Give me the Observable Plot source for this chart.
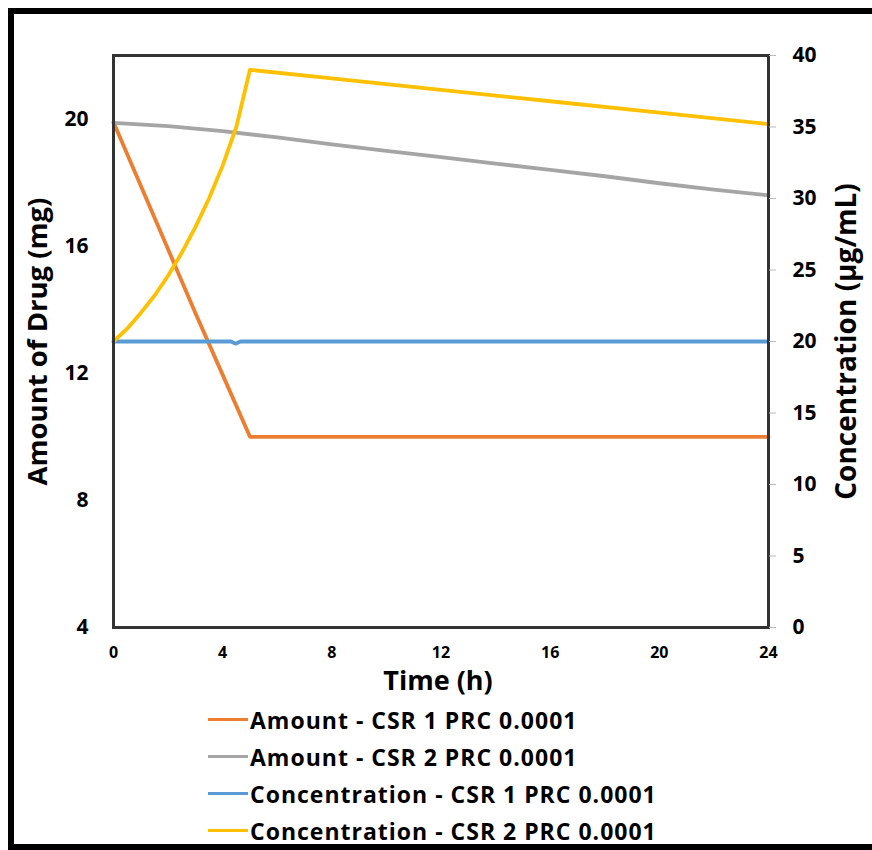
<!DOCTYPE html>
<html>
<head>
<meta charset="utf-8">
<script src="https://cdn.jsdelivr.net/npm/d3@7"></script>
<script src="https://cdn.jsdelivr.net/npm/@observablehq/plot@0.6"></script>
<style>
  html, body { margin: 0; padding: 0; background: #fff; }
  #wrap { position: relative; width: 872px; height: 850px; overflow: hidden; background: #fff; font-family: "Open Sans", sans-serif; }
  #border { position: absolute; left: 8px; top: 8px; width: 900px; height: 842px; box-sizing: border-box; border: 6px solid #000; }
  #chart { position: absolute; left: 0; top: 0; }
  #chart svg text { font-family: "Open Sans", sans-serif; font-weight: 700; }
  #legend { position: absolute; left: 208px; top: 701px; }
  .row { display: flex; align-items: center; height: 37px; }
  .sw { width: 40px; height: 3px; }
  .lbl { margin-left: 2px; font-weight: 700; font-size: 23px; letter-spacing: 1px; color: #000; white-space: nowrap; }
</style>
</head>
<body>
<div id="wrap">
  <div id="border"></div>
  <div id="chart"></div>
  <div id="legend"></div>
</div>
<script>
// Series names and colours
const seriesNames = [
  "Amount - CSR 1 PRC 0.0001",
  "Amount - CSR 2 PRC 0.0001",
  "Concentration - CSR 1 PRC 0.0001",
  "Concentration - CSR 2 PRC 0.0001"
];
const seriesColors = ["#ED7D31", "#A5A5A5", "#5B9BD5", "#FFC000"];

// Amount of drug (mg), left axis
const amount1T = [0, 1, 2, 3, 4, 5, 8, 12, 16, 20, 24];
const amount1V = [19.9, 17.9, 15.9, 13.9, 11.95, 10.0, 10.0, 10.0, 10.0, 10.0, 10.0];
const amount2T = [0, 2, 4, 6, 8, 10, 12, 14, 16, 18, 20, 22, 24];
const amount2V = [19.88, 19.78, 19.62, 19.42, 19.2, 19.0, 18.8, 18.6, 18.4, 18.2, 17.98, 17.78, 17.6];

// Concentration (µg/mL), right axis
const conc1T = [0, 4.3, 4.47, 4.65, 8, 12, 16, 20, 24];
const conc1V = [20, 20, 19.85, 20, 20, 20, 20, 20, 20];
const conc2T = [0, 0.5, 1, 1.5, 2, 2.5, 3, 3.5, 4, 4.5, 5, 8, 12, 16, 20, 24];
const conc2V = [20, 20.9, 22.0, 23.2, 24.6, 26.2, 28.0, 30.0, 32.3, 35.0, 39.0, 38.4, 37.6, 36.8, 36.0, 35.2];

// Axis ticks
const xTicks = [0, 4, 8, 12, 16, 20, 24];
const leftTicks = [4, 8, 12, 16, 20];
const rightTicks = [0, 5, 10, 15, 20, 25, 30, 35, 40];

// Left scale domain [4, 22]; right scale [0, 40]
const leftMin = 4, leftMax = 22, rightMin = 0, rightMax = 40;
const toLeft = c => leftMin + (c - rightMin) * (leftMax - leftMin) / (rightMax - rightMin);
const toRight = y => rightMin + (y - leftMin) * (rightMax - rightMin) / (leftMax - leftMin);

const rows = [];
amount1T.forEach((t, i) => rows.push({s: seriesNames[0], t, y: amount1V[i]}));
amount2T.forEach((t, i) => rows.push({s: seriesNames[1], t, y: amount2V[i]}));
conc1T.forEach((t, i) => rows.push({s: seriesNames[2], t, y: toLeft(conc1V[i])}));
conc2T.forEach((t, i) => rows.push({s: seriesNames[3], t, y: toLeft(conc2V[i])}));

const chart = Plot.plot({
  width: 872,
  height: 700,
  marginLeft: 113,
  marginRight: 104,
  marginTop: 55,
  marginBottom: 73,
  style: { background: "transparent", overflow: "visible" },
  x: { domain: [0, 24] },
  y: { domain: [leftMin, leftMax] },
  color: { domain: seriesNames, range: seriesColors },
  marks: [
    Plot.line(rows, { x: "t", y: "y", z: "s", stroke: "s", strokeWidth: 3.8, curve: "linear" }),
    Plot.frame({ stroke: "#333", strokeWidth: 3 }),
    Plot.axisX({ ticks: xTicks, tickSize: 0, tickPadding: 19, fontSize: 16, label: null, tickFormat: d => String(d) }),
    Plot.axisY({ anchor: "left", ticks: leftTicks, tickSize: 0, tickPadding: 25, fontSize: 21, label: null, tickFormat: d => String(d) }),
    Plot.axisY({ anchor: "right", ticks: rightTicks.map(toLeft), tickSize: 7, stroke: "#bbb", fill: "#000", tickPadding: 17, fontSize: 21, label: null, tickFormat: d => String(Math.round(toRight(d))) }),
    Plot.text(["Time (h)"], { frameAnchor: "bottom", dy: 54, dx: -3, lineAnchor: "middle", fontSize: 27, fill: "#000" }),
    Plot.text(["Amount of Drug (mg)"], { frameAnchor: "left", dx: -75, rotate: -90, lineAnchor: "middle", textAnchor: "middle", fontSize: 27.5, fill: "#000" }),
    Plot.text(["Concentration (µg/mL)"], { frameAnchor: "right", dx: 79, rotate: -90, lineAnchor: "middle", textAnchor: "middle", fontSize: 28, fill: "#000" })
  ]
});
document.getElementById("chart").appendChild(chart);

const legend = document.getElementById("legend");
seriesNames.forEach((name, i) => {
  const row = document.createElement("div");
  row.className = "row";
  const sw = document.createElement("div");
  sw.className = "sw";
  sw.style.background = seriesColors[i];
  const lbl = document.createElement("div");
  lbl.className = "lbl";
  lbl.textContent = name;
  row.appendChild(sw);
  row.appendChild(lbl);
  legend.appendChild(row);
});
</script>
</body>
</html>
